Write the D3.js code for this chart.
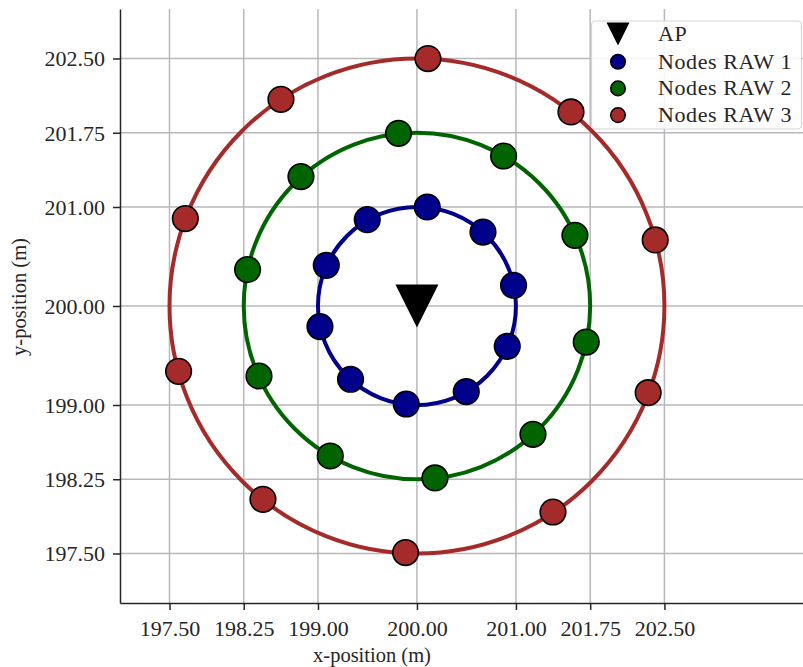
<!DOCTYPE html>
<html>
<head>
<meta charset="utf-8">
<script src="https://cdn.jsdelivr.net/npm/d3@7"></script>
<style>
  html, body { margin: 0; padding: 0; background: #fff; }
  svg { display: block; }
  text { font-family: "Liberation Serif", "DejaVu Serif", serif; fill: #262626; }
</style>
</head>
<body>
<svg id="chart" width="803" height="667"></svg>
<script>
// Access point and node positions (metres)
const apX = [200.0];
const apY = [200.0];

const nodes1X = [200.104, 200.667, 200.976, 200.912, 200.498, 199.892, 199.329, 199.020, 199.084, 199.498];
const nodes1Y = [201.000, 200.747, 200.209, 199.593, 199.135, 199.010, 199.260, 199.792, 200.411, 200.873];

const nodes2X = [199.814, 200.875, 201.596, 201.710, 201.172, 200.182, 199.124, 198.404, 198.289, 198.828];
const nodes2Y = [201.744, 201.515, 200.714, 199.636, 198.704, 198.263, 198.485, 199.293, 200.368, 201.307];

const nodes3X = [200.111, 201.556, 202.407, 202.336, 201.374, 199.885, 198.444, 197.592, 197.660, 198.626];
const nodes3Y = [202.499, 201.960, 200.667, 199.125, 197.919, 197.509, 198.047, 199.340, 200.883, 202.088];

// Ring radius of each node group around the AP
const ringRadius = [1.0, 1.75, 2.5];

const seriesNames = ["Nodes RAW 1", "Nodes RAW 2", "Nodes RAW 3"];
const seriesColors = ["#00008b", "#006400", "#a52a2a"];

const xTicks = [197.5, 198.25, 199.0, 200.0, 201.0, 201.75, 202.5];
const yTicks = [197.5, 198.25, 199.0, 200.0, 201.0, 201.75, 202.5];

const svg = d3.select("#chart");

const plotLeft = 120, plotRight = 803, plotTop = 9, plotBottom = 603;
const x = d3.scaleLinear().domain([197.0, 203.9]).range([plotLeft, plotRight]);
const y = d3.scaleLinear().domain([197.0, 203.0]).range([plotBottom, plotTop]);

// grid
const grid = svg.append("g");
grid.selectAll("line.gx").data(xTicks).join("line")
  .attr("x1", d => x(d)).attr("x2", d => x(d))
  .attr("y1", plotTop).attr("y2", plotBottom)
  .attr("stroke", "#b8b8bc").attr("stroke-width", 1.5);
grid.selectAll("line.gy").data(yTicks).join("line")
  .attr("x1", plotLeft).attr("x2", plotRight)
  .attr("y1", d => y(d)).attr("y2", d => y(d))
  .attr("stroke", "#b8b8bc").attr("stroke-width", 1.5);

// axes
const fmt = d3.format(".2f");
const xAxis = svg.append("g").attr("transform", `translate(0,${plotBottom})`)
  .call(d3.axisBottom(x).tickValues(xTicks).tickFormat(fmt).tickSize(7).tickPadding(6).tickSizeOuter(0));
const yAxis = svg.append("g").attr("transform", `translate(${plotLeft},0)`)
  .call(d3.axisLeft(y).tickValues(yTicks).tickFormat(fmt).tickSize(7).tickPadding(8).tickSizeOuter(0));

[xAxis, yAxis].forEach(g => {
  g.select(".domain").attr("stroke", "#262626").attr("stroke-width", 1.5);
  g.selectAll(".tick line").attr("stroke", "#262626").attr("stroke-width", 1.5);
  g.selectAll(".tick text")
    .attr("font-family", '"Liberation Serif", serif')
    .attr("font-size", 22).attr("fill", "#262626");
});
xAxis.selectAll(".tick text").attr("dy", "0.93em");
yAxis.selectAll(".tick text").attr("dy", "0.34em");

// axis labels
svg.append("text")
  .attr("x", 372).attr("y", 662)
  .attr("text-anchor", "middle").attr("font-size", 20.5)
  .text("x-position (m)");
svg.append("text")
  .attr("transform", "translate(26,297) rotate(-90)")
  .attr("text-anchor", "middle").attr("font-size", 20.5)
  .text("y-position (m)");

// rings
const series = [
  { xs: nodes1X, ys: nodes1Y },
  { xs: nodes2X, ys: nodes2Y },
  { xs: nodes3X, ys: nodes3Y }
];

const plot = svg.append("g");
ringRadius.forEach((r, i) => {
  plot.append("ellipse")
    .attr("cx", x(apX[0])).attr("cy", y(apY[0]))
    .attr("rx", x(apX[0] + r) - x(apX[0]))
    .attr("ry", y(apY[0]) - y(apY[0] + r))
    .attr("fill", "none")
    .attr("stroke", seriesColors[i]).attr("stroke-width", 4);
});

// AP marker (downward triangle)
const tri = (cx, cy, h) => `M${cx - h},${cy - h}L${cx + h},${cy - h}L${cx},${cy + h}Z`;
plot.selectAll("path.ap").data(apX.map((d, i) => [d, apY[i]])).join("path")
  .attr("d", d => tri(x(d[0]), y(d[1]), 21.5))
  .attr("fill", "#000");

// nodes
series.forEach((s, i) => {
  plot.selectAll(null).data(s.xs.map((d, j) => [d, s.ys[j]])).join("circle")
    .attr("cx", d => x(d[0])).attr("cy", d => y(d[1]))
    .attr("r", 12.8)
    .attr("fill", seriesColors[i])
    .attr("stroke", "#000").attr("stroke-width", 1.6);
});

// legend
const lg = svg.append("g");
lg.append("rect")
  .attr("x", 591.5).attr("y", 21).attr("width", 210).attr("height", 108)
  .attr("rx", 4).attr("fill", "#fff").attr("fill-opacity", 0.85)
  .attr("stroke", "#d6d6d6").attr("stroke-width", 1.2);
lg.append("path").attr("d", tri(618, 34, 11.5)).attr("fill", "#000");
lg.append("text").attr("x", 658).attr("y", 41).attr("font-size", 22)
  .attr("letter-spacing", 0.6).text("AP");
seriesNames.forEach((name, i) => {
  const cy = 61.7 + i * 26.7;
  lg.append("circle").attr("cx", 618).attr("cy", cy).attr("r", 7.3)
    .attr("fill", seriesColors[i]).attr("stroke", "#000").attr("stroke-width", 1.5);
  lg.append("text").attr("x", 658).attr("y", cy + 7).attr("font-size", 22)
    .attr("letter-spacing", 0.6).text(name);
});
</script>
</body>
</html>
